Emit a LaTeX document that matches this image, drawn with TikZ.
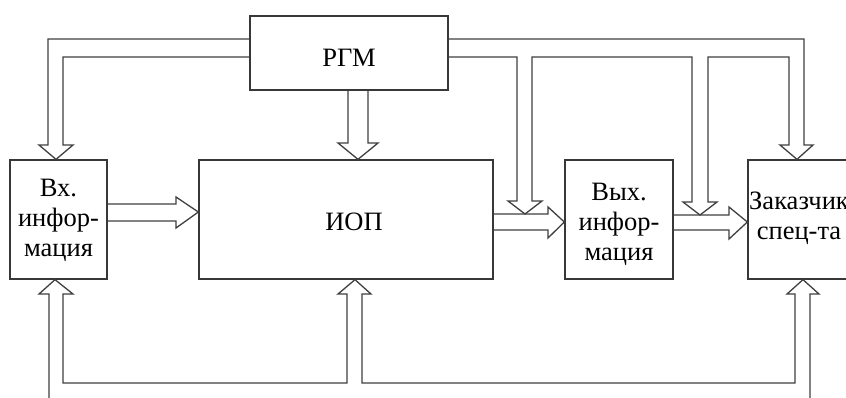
\documentclass[tikz,border=0pt]{standalone}
\usepackage{fontspec}
\setmainfont{Liberation Serif}
\begin{document}
\begin{tikzpicture}[x=1pt,y=-1pt,
  blockbox/.style={draw=black!78,line width=1.3pt,rectangle,inner sep=0pt},
  lbl/.style={font=\fontsize{26.5}{30}\selectfont,align=center,inner sep=0pt,text=black},
  pipe/.style={draw=black!75,line width=1.3pt,line join=miter}]
\useasboundingbox (0,0) rectangle (846,397);
\fill[white] (0,0) rectangle (846,397);
\clip (0,0) rectangle (846,397);

% blocks
\node[blockbox,minimum width=198pt,minimum height=74pt]  (rgm) at (349,53) {};
\node[blockbox,minimum width=97pt,minimum height=119pt]  (vx)  at (58.5,219.5) {};
\node[blockbox,minimum width=294pt,minimum height=119pt] (iop) at (346,219.5) {};
\node[blockbox,minimum width=108pt,minimum height=119pt] (vyx) at (619,219.5) {};
\node[blockbox,minimum width=102pt,minimum height=119pt] (zak) at (799,219.5) {};

% block captions
\node[lbl] (rgmtxt) at (349,57.5) {РГМ};
\node[lbl] (ioptxt) at (354,222) {ИОП};
\node[lbl] (vxtxt)  at (58.5,220) {Вх.\\инфор-\\мация};
\node[lbl] (vyxtxt) at (619,224) {Вых.\\инфор-\\мация};
\node[lbl] (zaktxt) at (799,218) {Заказчик\\спец-та};

% bus levels
\coordinate (busA) at (0,39);
\coordinate (busB) at (0,57);
\coordinate (busC) at (0,383);

% РГМ -> Вх. информация
\draw[pipe] (rgm.west |- busA) -- (48,39) -- (48,145) -- (39,145) -- (56,160 |- vx.north)
  -- (73,145) -- (63,145) -- (63,57) -- (rgm.west |- busB);

% РГМ -> ИОП
\draw[pipe] (348,0 |- rgm.south) -- (348,143) -- (338,143) -- (358,0 |- iop.north)
  -- (378,143) -- (368,143) -- (368,0 |- rgm.south);

% РГМ -> ИОП/Вых. and Вых./Заказчик links, and -> Заказчик
\draw[pipe] (rgm.east |- busA) -- (804,39) -- (804,145) -- (813,145) -- (797,0 |- zak.north)
  -- (780,145) -- (789,145) -- (789,57)
  -- (708,57) -- (708,202) -- (717,202) -- (700,215) -- (683,202) -- (692,202) -- (692,57)
  -- (532,57) -- (532,201) -- (542,201) -- (525,214) -- (508,201) -- (517,201) -- (517,57)
  -- (rgm.east |- busB);

% Вх. информация -> ИОП
\draw[pipe] (vx.east |- 0,204) -- (176,204) -- (176,197) -- (iop.west |- 0,212)
  -- (176,228) -- (176,221) -- (vx.east |- 0,221);

% ИОП -> Вых. информация
\draw[pipe] (iop.east |- 0,214) -- (548,214) -- (548,207) -- (vyx.west |- 0,222)
  -- (548,238) -- (548,230) -- (iop.east |- 0,230);

% Вых. информация -> Заказчик
\draw[pipe] (vyx.east |- 0,215) -- (729,215) -- (729,207) -- (zak.west |- 0,222)
  -- (729,239) -- (729,230) -- (vyx.east |- 0,230);

% feedback from below into the three blocks
\draw[pipe] (49,402) -- (49,294) -- (39,294) -- (55,0 |- vx.south) -- (73,294) -- (63,294)
  -- (63,0 |- busC) -- (347,383) -- (347,294) -- (338,294) -- (355,0 |- iop.south)
  -- (371,294) -- (362,294) -- (362,383) -- (795,383) -- (795,294) -- (787,294)
  -- (803,0 |- zak.south) -- (819,294) -- (810,294) -- (810,402);
\end{tikzpicture}
\end{document}
